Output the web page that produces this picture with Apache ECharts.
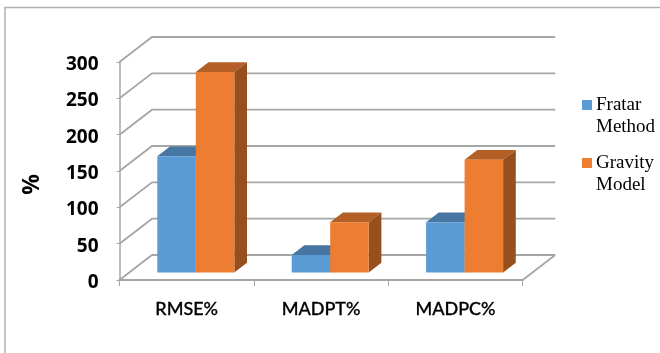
<!DOCTYPE html>
<html>
<head>
<meta charset="utf-8">
<style>html,body{margin:0;padding:0;background:#fff}#chart{width:660px;height:353px}</style>
<script src="https://cdn.jsdelivr.net/npm/echarts@6/dist/echarts.min.js"></script>
</head>
<body>
<div id="chart"></div>
<script>
const categories = ['RMSE%', 'MADPT%', 'MADPC%'];
const fratarMethod = [160, 24, 69];
const gravityModel = [276, 69, 155];
const valueTicks = [0, 50, 100, 150, 200, 250, 300];

// Oblique projection of the chart box and of the bars inside it (px).
const WALL_DX = 32.5, WALL_DY = -25;
const BAR_INSET = 0.28, BAR_DEPTH = 0.39;
const BAR_SHARE = 1 / 3.49;

const GRID_GREY = '#a6a6a6';

function wallLine(params, api) {
  const cs = params.coordSys;
  const y = api.coord([0, api.value(0)])[1];
  const x0 = cs.x, x1 = cs.x + cs.width;
  const children = [{
    type: 'polyline',
    shape: { points: [[x0, y], [x0 + WALL_DX, y + WALL_DY], [x1 + WALL_DX, y + WALL_DY]] },
    style: { stroke: GRID_GREY, lineWidth: 1.8, fill: null }
  }];
  if (api.value(0) === 0) {
    children.push({
      type: 'line',
      shape: { x1: x1, y1: y, x2: x1 + WALL_DX, y2: y + WALL_DY },
      style: { stroke: GRID_GREY, lineWidth: 1.8 }
    });
  }
  return { type: 'group', children };
}

function prismRenderer(slot, front, top, side) {
  return function (params, api) {
    const idx = api.value(0);
    const peak = api.coord([idx, api.value(1)]);
    const floor = api.coord([idx, 0]);
    const w = api.size([1, 0])[0] * BAR_SHARE;
    const ox = WALL_DX * BAR_INSET, oy = WALL_DY * 0.3;
    const dx = WALL_DX * BAR_DEPTH, dy = WALL_DY * BAR_DEPTH;
    const xl = peak[0] + ox + slot * w, xr = xl + w;
    const yt = peak[1] + oy, yb = floor[1] + oy;
    return {
      type: 'group',
      children: [
        { type: 'polygon', shape: { points: [[xl, yt], [xl + dx, yt + dy], [xr + dx, yt + dy], [xr, yt]] }, style: { fill: top } },
        { type: 'polygon', shape: { points: [[xr, yt], [xr + dx, yt + dy], [xr + dx, yb + dy], [xr, yb]] }, style: { fill: side } },
        { type: 'rect', shape: { x: xl, y: yt, width: w, height: yb - yt }, style: { fill: front } }
      ]
    };
  };
}

// Marker sits at the top of a taller icon box so it lines up with the first text line.
const LEGEND_ICON = 'path://M0 0h10v10h-10zM0 32L0 32';

const chart = echarts.init(document.getElementById('chart'), null, { renderer: 'canvas' });
chart.setOption({
  animation: false,
  backgroundColor: '#fff',
  grid: { left: 119.5, right: 137.3, top: 62, bottom: 73, containLabel: false },
  xAxis: {
    type: 'category',
    data: categories,
    axisLine: { lineStyle: { color: GRID_GREY, width: 2 } },
    axisTick: { show: true, length: 6, lineStyle: { color: GRID_GREY, width: 1 } },
    axisLabel: { color: '#000', fontFamily: 'Lato', fontWeight: 500, fontSize: 18, margin: 20, textBorderColor: '#000', textBorderWidth: 0.3 }
  },
  yAxis: {
    type: 'value', min: 0, max: 300, interval: 50,
    name: '%', nameLocation: 'middle', nameRotate: 90, nameGap: 76,
    nameTextStyle: { color: '#000', fontFamily: 'Open Sans', fontWeight: 'bold', fontSize: 23, padding: [0, 27, 0, 0] },
    axisLine: { show: true, lineStyle: { color: GRID_GREY, width: 1.5 } },
    axisTick: { show: true, length: 3, lineStyle: { color: GRID_GREY, width: 1 } },
    axisLabel: {
      margin: 21, customValues: valueTicks, formatter: '{tick|{value}}',
      rich: { tick: { color: '#000', fontFamily: 'Open Sans', fontWeight: 'bold', fontSize: 19, padding: [5, 0, 0, 0] } }
    },
    splitLine: { show: false }
  },
  legend: {
    orient: 'vertical', left: 582, top: 94, itemWidth: 10, itemHeight: 32, itemGap: 14, padding: 0,
    selectedMode: false,
    textStyle: { fontFamily: 'Liberation Serif', fontSize: 19, lineHeight: 22, color: '#000', padding: [0, 0, 0, -1] },
    data: [
      { name: 'Fratar\nMethod', icon: LEGEND_ICON, itemStyle: { color: '#5b9bd5' } },
      { name: 'Gravity\nModel', icon: LEGEND_ICON, itemStyle: { color: '#ed7d31' } }
    ]
  },
  graphic: [
    { type: 'polyline', silent: true, shape: { points: [[5, 353], [5, 7.5], [660, 7.5]] }, style: { stroke: '#b0b0b0', lineWidth: 1.5, fill: null } }
  ],
  series: [
    {
      type: 'custom', name: 'walls', silent: true, clip: false, z: 1,
      encode: { y: 0 }, data: valueTicks.map(v => [v]),
      renderItem: wallLine
    },
    {
      type: 'custom', name: 'Fratar\nMethod', clip: false, z: 2,
      encode: { x: 0, y: 1 }, data: fratarMethod.map((v, i) => [i, v]),
      itemStyle: { color: '#5b9bd5' },
      renderItem: prismRenderer(-1, '#5b9bd5', '#4676a1', '#3f6a93')
    },
    {
      type: 'custom', name: 'Gravity\nModel', clip: false, z: 3,
      encode: { x: 0, y: 1 }, data: gravityModel.map((v, i) => [i, v]),
      itemStyle: { color: '#ed7d31' },
      renderItem: prismRenderer(0, '#ed7d31', '#b35f25', '#984f1e')
    }
  ]
});
</script>
</body>
</html>
